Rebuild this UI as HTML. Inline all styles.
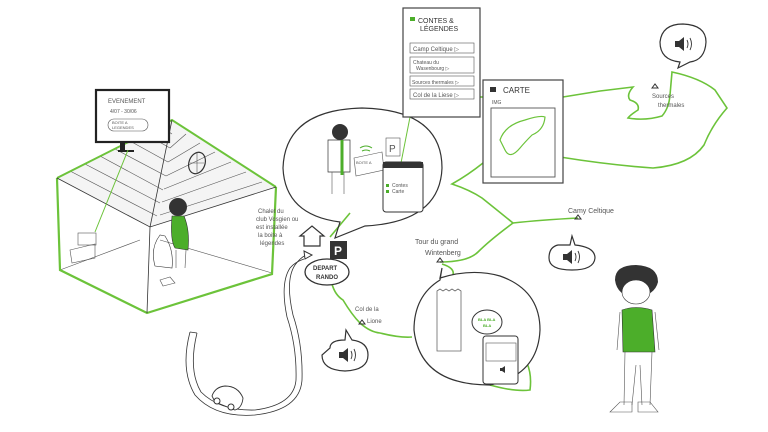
<!DOCTYPE html>
<html><head><meta charset="utf-8"><style>
html,body{margin:0;padding:0;background:#fff;}
svg{display:block;font-family:"Liberation Sans",sans-serif;}
.k{fill:none;stroke:#333;stroke-width:1.2}
.t{stroke:#555;stroke-width:.6;fill:none}
.g{fill:none;stroke:#6cc33a;stroke-width:1.6}
.s{font-size:7px;fill:#555}
</style></head><body>
<svg width="768" height="432" viewBox="0 0 768 432">
<rect width="768" height="432" fill="#fff"/>
<!-- House -->
<g>
<path d="M57,178 L172,120 L276,187 L150,227 Z" fill="#f4f4f4" stroke="none"/>
<g class="t">
<line x1="70" y1="171" x2="157" y2="216"/><line x1="85" y1="164" x2="160" y2="203"/>
<line x1="100" y1="156" x2="163" y2="190"/><line x1="115" y1="149" x2="166" y2="176"/>
<line x1="130" y1="141" x2="168" y2="162"/><line x1="145" y1="134" x2="170" y2="148"/>
<line x1="160" y1="126" x2="172" y2="134"/>
<line x1="160" y1="215" x2="262" y2="182"/><line x1="162" y1="202" x2="246" y2="172"/>
<line x1="164" y1="189" x2="231" y2="162"/><line x1="166" y1="176" x2="215" y2="152"/>
<line x1="168" y1="162" x2="200" y2="143"/><line x1="170" y1="148" x2="186" y2="134"/>
<line x1="60" y1="270" x2="140" y2="240"/><line x1="160" y1="240" x2="272" y2="273"/>
</g>
<path d="M57,178 L172,120 L276,187" class="g" style="stroke-width:2"/>
<path d="M57,178 L60,270 L147,313 L272,274 L276,187" class="g" style="stroke-width:2.2"/>
<path d="M57,178 L150,227 L276,187 M172,120 L150,227 L147,313" class="k" style="stroke-width:.8"/>
<ellipse cx="197" cy="163" rx="8" ry="11" class="k" transform="rotate(20 197 163)"/>
<path d="M190,163 H204 M197,152 V174" class="t"/>
<!-- tv -->
<rect x="96" y="90" width="73" height="52" fill="#fff" stroke="#222" stroke-width="2.2"/>
<rect x="120" y="142" width="5" height="8" fill="#222"/><rect x="118" y="150" width="16" height="2" fill="#222"/>
<text x="108" y="103" class="s" style="font-size:6px">EVENEMENT</text>
<text x="110" y="113" class="s" style="font-size:5px">4/07 - 30/06</text>
<rect x="108" y="119" width="40" height="12" rx="6" class="t"/>
<text x="112" y="124" class="s" style="font-size:4px">BOITE A</text><text x="112" y="129" class="s" style="font-size:4px">LEGENDES</text>
<line x1="128" y1="150" x2="95" y2="232" class="g" style="stroke-width:1"/>
<rect x="78" y="233" width="18" height="12" class="t"/>
<path d="M70,250 L95,244 V258 L72,263 Z" class="t"/>
<!-- person in house -->
<circle cx="178" cy="207" r="9" fill="#333"/>
<path d="M172,216 Q170,240 175,248 L188,250 Q190,230 184,216 Z" fill="#4cae2a" stroke="#333" stroke-width=".6"/>
<path d="M160,235 Q150,248 155,266 L172,268 Q174,250 165,236 Z" class="k" style="stroke-width:.6"/>
<path d="M176,250 L176,268 M186,250 L185,268" class="t"/>
<path d="M160,280 l10,-3 l5,6 l-12,3z" class="t"/>
</g>
<!-- green trail -->
<g class="g">
<path d="M563,97 L600,91 L633,87 Q626,95 630,100 Q640,103 638,110 Q630,115 628,118 Q645,121 662,116 Q669,108 670,95 L672,72 Q700,78 715,90 L727,108 Q712,125 704,145 Q690,165 653,168 Q610,165 560,157"/>
<path d="M480,97 L483,97"/>
<path d="M483,163 Q468,175 452,184 Q470,190 482,198 Q497,210 513,223 Q540,220 578,218"/>
<path d="M513,223 Q490,240 478,252 Q468,262 440,262"/>
<path d="M442,264 Q455,268 453,275"/>
<path d="M527,363 Q532,375 530,390 Q515,392 490,385"/>
<path d="M330,237 Q340,225 350,213"/>
<path d="M332,284 Q335,295 343,300 Q352,315 360,323 Q370,332 380,333 Q400,338 412,337"/>
</g>
<!-- big bubble -->
<path d="M340,222 Q285,215 283,168 Q285,110 362,108 Q442,110 442,168 Q440,222 365,226 L335,238 Z" fill="#fff" class="k"/>
<circle cx="340" cy="132" r="8" fill="#333"/>
<path d="M328,140 h22 v32 h-22z" class="k" style="stroke-width:.7"/>
<path d="M342,140 v35" stroke="#4cae2a" stroke-width="3"/>
<path d="M332,172 v22 M344,172 v22" class="t"/>
<path d="M354,158 l28,-6 l2,18 l-28,6z" class="t"/><text x="356" y="164" class="s" style="font-size:4px">BOITE A</text>
<path d="M360,148 q6,-4 12,0 M362,151 q4,-2 8,0" stroke="#4cae2a" fill="none"/>
<rect x="386" y="138" width="14" height="18" class="t"/><text x="389" y="152" class="s" style="font-size:10px">P</text>
<line x1="411" y1="112" x2="400" y2="168" class="g" style="stroke-width:1"/>
<rect x="383" y="162" width="40" height="50" rx="3" fill="#fff" stroke="#333"/>
<rect x="383" y="162" width="40" height="6" fill="#333"/>
<rect x="386" y="184" width="3" height="3" fill="#4cae2a"/><rect x="386" y="190" width="3" height="3" fill="#4cae2a"/>
<text x="392" y="187" class="s" style="font-size:5px">Contes</text><text x="392" y="193" class="s" style="font-size:5px">Carte</text>
<!-- Contes panel -->
<rect x="403" y="8" width="77" height="109" fill="#fff" stroke="#444" stroke-width="1.2"/>
<rect x="410" y="17" width="5" height="4" fill="#4cae2a"/>
<text x="418" y="23" class="s" style="font-size:7px;fill:#333">CONTES &amp;</text>
<text x="420" y="31" class="s" style="font-size:7px;fill:#333">LÉGENDES</text>
<rect x="410" y="43" width="64" height="10" class="t"/><text x="413" y="51" class="s" style="font-size:6px">Camp Celtique ▷</text>
<rect x="410" y="57" width="64" height="16" class="t"/><text x="413" y="64" class="s" style="font-size:5px">Chateau du</text><text x="416" y="70" class="s" style="font-size:5px">Wasenbourg ▷</text>
<rect x="410" y="76" width="64" height="10" class="t"/><text x="412" y="84" class="s" style="font-size:5px">Sources thermales ▷</text>
<rect x="410" y="89" width="64" height="10" class="t"/><text x="413" y="97" class="s" style="font-size:6px">Col de la Liese ▷</text>
<!-- Carte panel -->
<rect x="483" y="80" width="80" height="103" fill="#fff" stroke="#444" stroke-width="1.2"/>
<rect x="490" y="87" width="6" height="5" fill="#333"/>
<text x="503" y="93" class="s" style="font-size:8px;fill:#333">CARTE</text>
<text x="492" y="104" class="s" style="font-size:5px">IMG</text>
<rect x="491" y="108" width="64" height="69" class="t" style="stroke-width:.9"/>
<path d="M500,140 Q505,125 525,120 Q540,115 545,117 Q544,130 532,135 Q525,142 520,148 Q510,160 505,150 Z" fill="none" stroke="#6cc33a" stroke-width="1.2"/>
<!-- markers & labels -->
<path d="M575,219 l3,-4 l3,4z M652,88 l3,-4 l3,4z M437,262 l3,-4 l3,4z M359,324 l3,-4 l3,4z" fill="none" stroke="#333"/>
<text x="568" y="213" class="s">Camy Celtique</text>
<text x="652" y="98" class="s" style="font-size:6px">Sources</text><text x="658" y="107" class="s" style="font-size:6px">thermales</text>
<text x="415" y="244" class="s">Tour du grand</text><text x="425" y="255" class="s">Wintenberg</text>
<text x="355" y="311" class="s" style="font-size:6px">Col de la</text><text x="367" y="323" class="s" style="font-size:6px">Lione</text>
<text x="258" y="213" class="s" style="font-size:6px">Chalet du</text>
<text x="256" y="221" class="s" style="font-size:6px">club Vosgien ou</text>
<text x="256" y="229" class="s" style="font-size:6px">est installée</text>
<text x="258" y="237" class="s" style="font-size:6px">la boite à</text>
<text x="260" y="245" class="s" style="font-size:6px">légendes</text>
<!-- house icon, P, depart -->
<path d="M304,246 V236 H300 L312,226 L324,236 H320 V246 Z" class="k"/>
<rect x="330" y="241" width="17" height="18" fill="#333"/>
<text x="334" y="255" style="font-size:12px;fill:#fff;font-weight:bold">P</text>
<ellipse cx="327" cy="272" rx="22" ry="13" fill="#fff" stroke="#333" stroke-width="1.3"/>
<text x="313" y="270" style="font-size:6px;fill:#333;font-weight:bold">DEPART</text>
<text x="316" y="279" style="font-size:6px;fill:#333;font-weight:bold">RANDO</text>
<!-- road -->
<path d="M190,332 Q180,370 195,395 Q215,418 255,415 Q300,410 302,380 Q303,345 293,315 Q285,280 295,265 Q300,258 306,255" class="k" style="stroke-width:.8"/>
<path d="M197,333 Q188,370 201,392 Q220,411 255,410 Q294,405 296,380 Q297,347 287,317 Q280,283 290,268 Q295,262 304,259" class="k" style="stroke-width:.8"/>
<path d="M190,332 L197,333" class="k" style="stroke-width:.8"/>
<path d="M304,251 l8,4 l-7,4z" fill="#fff" stroke="#333"/>
<path d="M212,396 Q215,387 225,386 Q238,386 243,398 Q242,408 235,410 L215,402 Z" fill="#fff" stroke="#333" stroke-width=".9"/>
<circle cx="217" cy="401" r="3" fill="#fff" stroke="#333"/><circle cx="231" cy="407" r="3" fill="#fff" stroke="#333"/>
<!-- speaker bubbles -->
<g fill="#fff" stroke="#333" stroke-width="1.2">
<path d="M330,348 Q330,340 345,340 L346,330 L352,340 Q368,342 368,355 Q368,370 345,371 Q322,370 322,355 Z"/>
<path d="M558,245 L570,245 L572,236 L575,245 Q595,247 595,258 Q594,270 572,270 Q549,270 549,258 Q549,247 558,245Z"/>
<path d="M680,62 Q660,60 660,42 Q662,24 683,24 Q706,25 706,42 Q705,60 690,62 L678,68 Z"/>
</g>
<g fill="#333">
<path d="M339,352 h4 l5,-4 v14 l-5,-4 h-4z"/>
<path d="M563,254 h4 l5,-4 v14 l-5,-4 h-4z"/>
<path d="M675,41 h4 l5,-4 v14 l-5,-4 h-4z"/>
</g>
<g fill="none" stroke="#333" stroke-width=".9">
<path d="M351,351 q2,4 0,8 M354,349 q3,6 0,12"/>
<path d="M575,253 q2,4 0,8 M578,251 q3,6 0,12"/>
<path d="M687,40 q2,4 0,8 M690,38 q3,6 0,12"/>
</g>
<!-- tower bubble -->
<path d="M440,278 Q472,268 500,276 Q540,290 540,330 Q538,375 490,385 Q420,385 414,330 Q414,296 440,280 L442,268 Z" fill="#fff" stroke="#333" stroke-width="1.2"/>
<path d="M437,291 l3,-2 l3,2 l3,-2 l3,2 l3,-2 l3,2 l3,-2 l3,2 v60 h-24z" fill="none" stroke="#666" stroke-width=".8"/>
<ellipse cx="487" cy="322" rx="15" ry="12" fill="#fff" stroke="#333"/>
<text x="478" y="321" style="font-size:4px;fill:#4cae2a;font-weight:bold">BLA BLA</text>
<text x="483" y="327" style="font-size:4px;fill:#4cae2a;font-weight:bold">BLA</text>
<rect x="483" y="336" width="35" height="48" rx="3" fill="#fff" stroke="#333"/>
<rect x="486" y="343" width="30" height="18" class="t"/>
<path d="M500,368 h2 l3,-2 v7 l-3,-2 h-2z" fill="#333"/>
<!-- right person -->
<path d="M615,280 Q615,265 636,265 Q658,266 658,282 Q655,295 636,298 Q617,296 615,280Z" fill="#333"/>
<ellipse cx="636" cy="292" rx="14" ry="12" fill="#fff" stroke="#333" stroke-width=".6"/>
<path d="M622,310 Q636,305 652,310 L655,352 L623,352 Z" fill="#4cae2a" stroke="#333" stroke-width=".6"/>
<path d="M620,312 L617,350 M655,312 L659,350" class="t"/>
<path d="M625,352 L624,405 M636,365 L632,405 M640,365 L642,405 M652,352 L650,405" class="t"/>
<path d="M610,412 l10,-10 h12 v10z M638,412 v-10 h12 l8,10z" class="t"/>
</svg>
</body></html>
